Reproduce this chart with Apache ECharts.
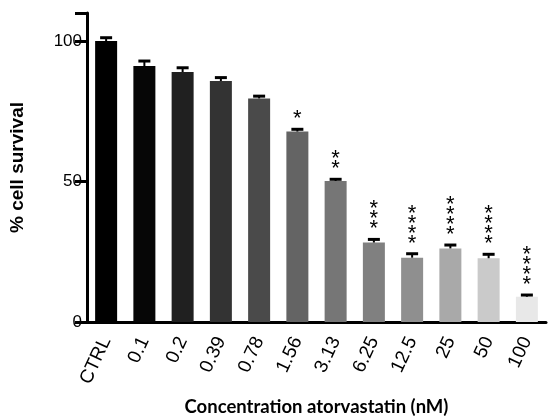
<!DOCTYPE html>
<html>
<head>
<meta charset="utf-8">
<script src="https://cdn.jsdelivr.net/npm/echarts@6/dist/echarts.min.js"></script>
<style>
  html, body { margin: 0; padding: 0; background: #fff; }
  #chart { width: 548px; height: 416px; }
</style>
</head>
<body>
<div id="chart"></div>
<script>
// concentrations (nM)
const categories = ['CTRL', '0.1', '0.2', '0.39', '0.78', '1.56', '3.13', '6.25', '12.5', '25', '50', '100'];
// mean % survival
const survival = [100, 91.1, 89.0, 85.8, 79.6, 67.8, 50.2, 28.3, 22.9, 26.2, 22.7, 9.0];
// top of the error bar
const errTop = [101.2, 92.9, 90.5, 87.0, 80.4, 68.6, 50.8, 29.4, 24.3, 27.4, 24.1, 9.6];
// significance marks
const stars = ['', '', '', '', '', '*', '**', '***', '****', '****', '****', '****'];
const barColors = ['#000000', '#060606', '#202020', '#333333', '#4a4a4a', '#646464',
  '#767676', '#808080', '#8f8f8f', '#a9a9a9', '#cacaca', '#e8e8e8'];
const yTicks = [0, 50, 100];

const chart = echarts.init(document.getElementById('chart'));

chart.setOption({
  animation: false,
  grid: { left: 87, right: 2, top: 13, bottom: 94, outerBoundsMode: 'none' },
  xAxis: {
    type: 'category',
    data: categories,
    name: 'Concentration atorvastatin (nM)',
    nameLocation: 'middle',
    nameGap: 76,
    nameTextStyle: { fontFamily: 'Lato', fontWeight: 'bold', fontSize: 18.5, color: '#000' },
    axisLine: { lineStyle: { color: '#000', width: 3 } },
    axisTick: { alignWithLabel: true, length: 10, lineStyle: { color: '#000', width: 3 } },
    axisLabel: {
      rotate: 65,
      margin: 16,
      fontFamily: 'Liberation Sans',
      fontSize: 19,
      color: '#000'
    }
  },
  yAxis: {
    type: 'value',
    min: 0,
    max: 110,
    interval: 50,
    name: '% cell survival',
    nameLocation: 'middle',
    nameGap: 60,
    nameTextStyle: { fontFamily: 'Liberation Sans', fontWeight: 'bold', fontSize: 19, color: '#000' },
    axisLine: { show: true, lineStyle: { color: '#000', width: 3 } },
    axisTick: { show: true, length: 12, lineStyle: { color: '#000', width: 3 } },
    axisLabel: {
      margin: 5,
      fontFamily: 'Liberation Sans',
      fontSize: 17,
      color: '#000',
      formatter: v => (yTicks.indexOf(v) > -1 ? String(v) : '')
    },
    splitLine: { show: false }
  },
  series: [
    {
      type: 'bar',
      barWidth: 22,
      data: survival.map((v, i) => ({ value: v, itemStyle: { color: barColors[i] } }))
    },
    {
      type: 'custom',
      data: categories.map((c, i) => [i, survival[i], errTop[i]]),
      renderItem: (params, api) => {
        const base = api.coord([api.value(0), api.value(1)]);
        const top = api.coord([api.value(0), api.value(2)]);
        const idx = params.dataIndex;
        const children = [
          {
            type: 'line',
            shape: { x1: top[0], y1: base[1], x2: top[0], y2: top[1] },
            style: { stroke: '#000', lineWidth: 2 }
          },
          {
            type: 'line',
            shape: { x1: top[0] - 6, y1: top[1], x2: top[0] + 6, y2: top[1] },
            style: { stroke: '#000', lineWidth: 3 }
          }
        ];
        if (stars[idx]) {
          children.push({
            type: 'text',
            style: {
              text: stars[idx].split('').join('\n'),
              x: top[0],
              y: top[1] - 5,
              align: 'center',
              verticalAlign: 'bottom',
              fontFamily: 'Liberation Sans',
              fontSize: 22,
              lineHeight: 10,
              fill: '#000'
            }
          });
        }
        return { type: 'group', children: children };
      },
      z: 3
    }
  ]
});
</script>
</body>
</html>
